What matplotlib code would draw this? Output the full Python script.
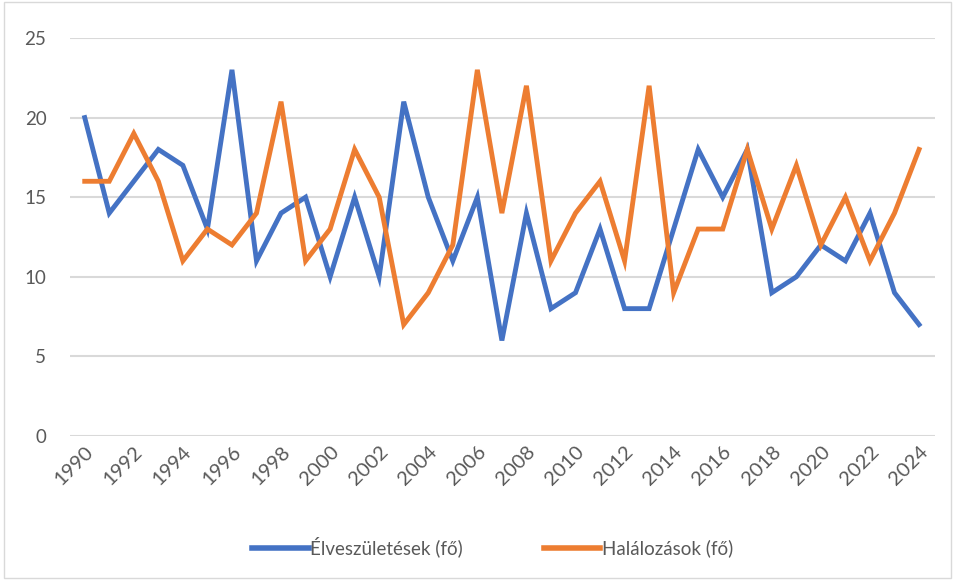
import matplotlib
matplotlib.use("Agg")
import matplotlib.pyplot as plt
from matplotlib.patches import Rectangle

years = list(range(1990, 2025))
births = [20, 14, 16, 18, 17, 13, 23, 11, 14, 15, 10, 15, 10, 21, 15, 11, 15, 6, 14, 8,
          9, 13, 8, 8, 13, 18, 15, 18, 9, 10, 12, 11, 14, 9, 7]
deaths = [16, 16, 19, 16, 11, 13, 12, 14, 21, 11, 13, 18, 15, 7, 9, 12, 23, 14, 22, 11,
          14, 16, 11, 22, 9, 13, 13, 18, 13, 17, 12, 15, 11, 14, 18]
series_names = ["Élveszületések (fő)", "Halálozások (fő)"]
colors = ["#4472C4", "#ED7D31"]
yticks = [0, 5, 10, 15, 20, 25]

plt.rcParams['font.family'] = ['Lato', 'DejaVu Sans']

fig = plt.figure(figsize=(9.55, 5.8), dpi=100)
ax = fig.add_axes([70/955, (580-436)/580, (935-70)/955, (436-38)/580])

x = list(range(len(years)))
ax.plot(x, births, color=colors[0], lw=3.5, label=series_names[0], solid_joinstyle='miter')
ax.plot(x, deaths, color=colors[1], lw=3.5, label=series_names[1], solid_joinstyle='miter')

ax.set_ylim(0, 25)
ax.set_xlim(-0.6, len(years) - 1 + 0.65)
ax.set_yticks(yticks)
ax.set_yticklabels([str(v) for v in yticks], fontsize=13.5, color="#595959")
ax.yaxis.grid(True, color="#D9D9D9", lw=1.5)
ax.set_axisbelow(True)
ax.set_xticks(x[::2])
ax.set_xticklabels([str(y) for y in years[::2]], rotation=45, ha='right', va='top',
                   rotation_mode='anchor', fontsize=14.5, color="#595959")
ax.tick_params(axis='both', length=0)
ax.tick_params(axis='y', pad=17)
ax.tick_params(axis='x', pad=5)
for s in ax.spines.values():
    s.set_visible(False)

leg = fig.legend(loc='center', bbox_to_anchor=(0.516, (580-547)/580), ncol=2, frameon=False,
                 fontsize=13.5, handlelength=3.0, handletextpad=0.1, columnspacing=4.3)
for t in leg.get_texts():
    t.set_color("#595959")
for l in leg.get_lines():
    l.set_linewidth(4)

fig.patches.append(Rectangle((0.004, 0.004), 0.992, 0.992, transform=fig.transFigure,
                             fill=False, edgecolor="#D9D9D9", lw=1))

fig.savefig("out.png", dpi=100, facecolor="white")
